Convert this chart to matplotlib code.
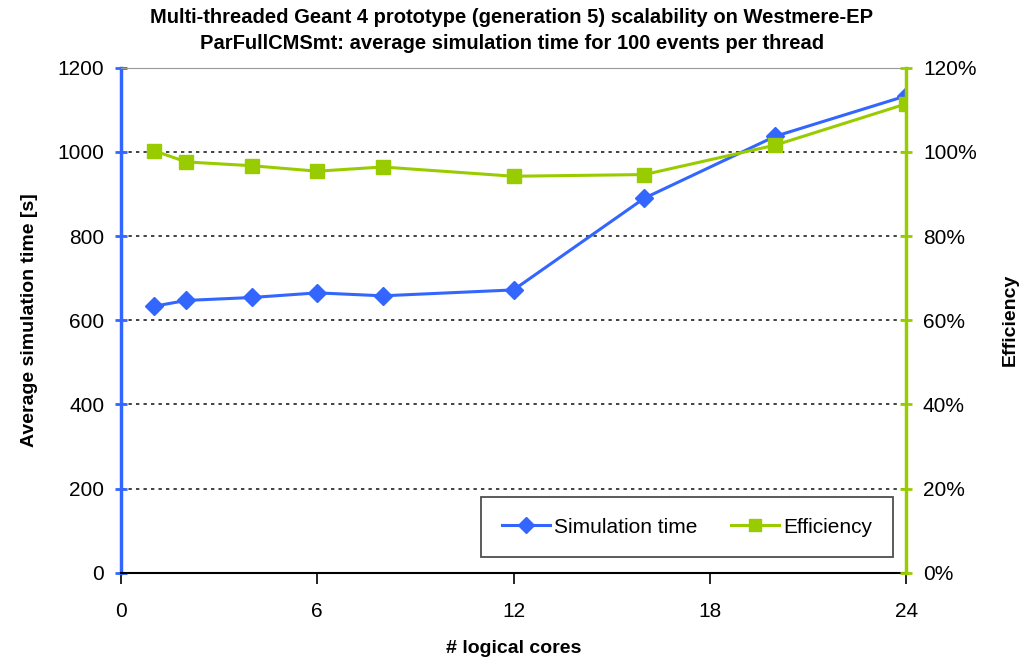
import matplotlib
matplotlib.use('Agg')
from matplotlib import pyplot as plt
from matplotlib.ticker import FuncFormatter

# data
cores = [1, 2, 4, 6, 8, 12, 16, 20, 24]
sim_time = [633, 647, 654, 665, 658, 672, 890, 1037, 1133]
efficiency = [100.3, 97.6, 96.7, 95.4, 96.4, 94.2, 94.6, 101.6, 111.4]

blue = '#3366ff'
green = '#99cc00'

plt.rcParams['font.family'] = ['Liberation Sans', 'DejaVu Sans']

fig = plt.figure(figsize=(10.24, 6.63), dpi=100)
ax = fig.add_axes([0.118, 0.136, 0.767, 0.762])
ax2 = ax.twinx()

l1, = ax.plot(cores, sim_time, color=blue, marker='D', markersize=9, linewidth=2.2,
              label='Simulation time')
l2, = ax2.plot(cores, efficiency, color=green, marker='s', markersize=10, linewidth=2.2,
               label='Efficiency')

ax.set_xlim(0, 24)
ax.set_ylim(0, 1200)
ax2.set_ylim(0, 120)
ax.set_xticks([0, 6, 12, 18, 24])
ax.set_yticks(range(0, 1201, 200))
ax2.set_yticks(range(0, 121, 20))
ax2.yaxis.set_major_formatter(FuncFormatter(lambda v, p: '%d%%' % v))

for y in range(200, 1001, 200):
    ax.axhline(y, color='#222222', linestyle=(0, (2, 2.5)), linewidth=1.2, zorder=0)

ax.spines['left'].set_color(blue)
ax.spines['left'].set_linewidth(2.5)
ax.spines['top'].set_color('#999999')
ax.spines['right'].set_visible(False)
ax.spines['bottom'].set_linewidth(1.5)
ax2.spines['right'].set_color(green)
ax2.spines['right'].set_linewidth(2.5)
ax2.spines['left'].set_visible(False)
ax2.spines['top'].set_visible(False)
ax2.spines['bottom'].set_visible(False)

ax.tick_params(axis='x', direction='out', length=8, width=1.2, labelsize=15, pad=13)
ax.tick_params(axis='y', direction='inout', length=8, width=2, color=blue, labelsize=15, pad=8)
ax2.tick_params(axis='y', direction='inout', length=8, width=2, color=green, labelsize=15, pad=8)

ax.set_xlabel('# logical cores', fontsize=14, fontweight='bold', labelpad=14)
ax.set_ylabel('Average simulation time [s]', fontsize=14, fontweight='bold', labelpad=14)
ax2.set_ylabel('Efficiency', fontsize=14, fontweight='bold', labelpad=18)

fig.suptitle('Multi-threaded Geant 4 prototype (generation 5) scalability on Westmere-EP\n'
             'ParFullCMSmt: average simulation time for 100 events per thread',
             fontsize=14.5, fontweight='bold', y=0.988, linespacing=1.45)

leg = ax2.legend([l1, l2], ['Simulation time', 'Efficiency'], loc='lower right',
                 ncol=2, fontsize=15, frameon=True, fancybox=False, edgecolor='#222222',
                 borderpad=1.0, handlelength=2.3, handletextpad=0.2, columnspacing=1.6,
                 bbox_to_anchor=(0.996, 0.01))
leg.get_frame().set_linewidth(1.3)
for h in leg.legend_handles:
    h.set_markersize(8)

fig.savefig('out.png', dpi=100)
